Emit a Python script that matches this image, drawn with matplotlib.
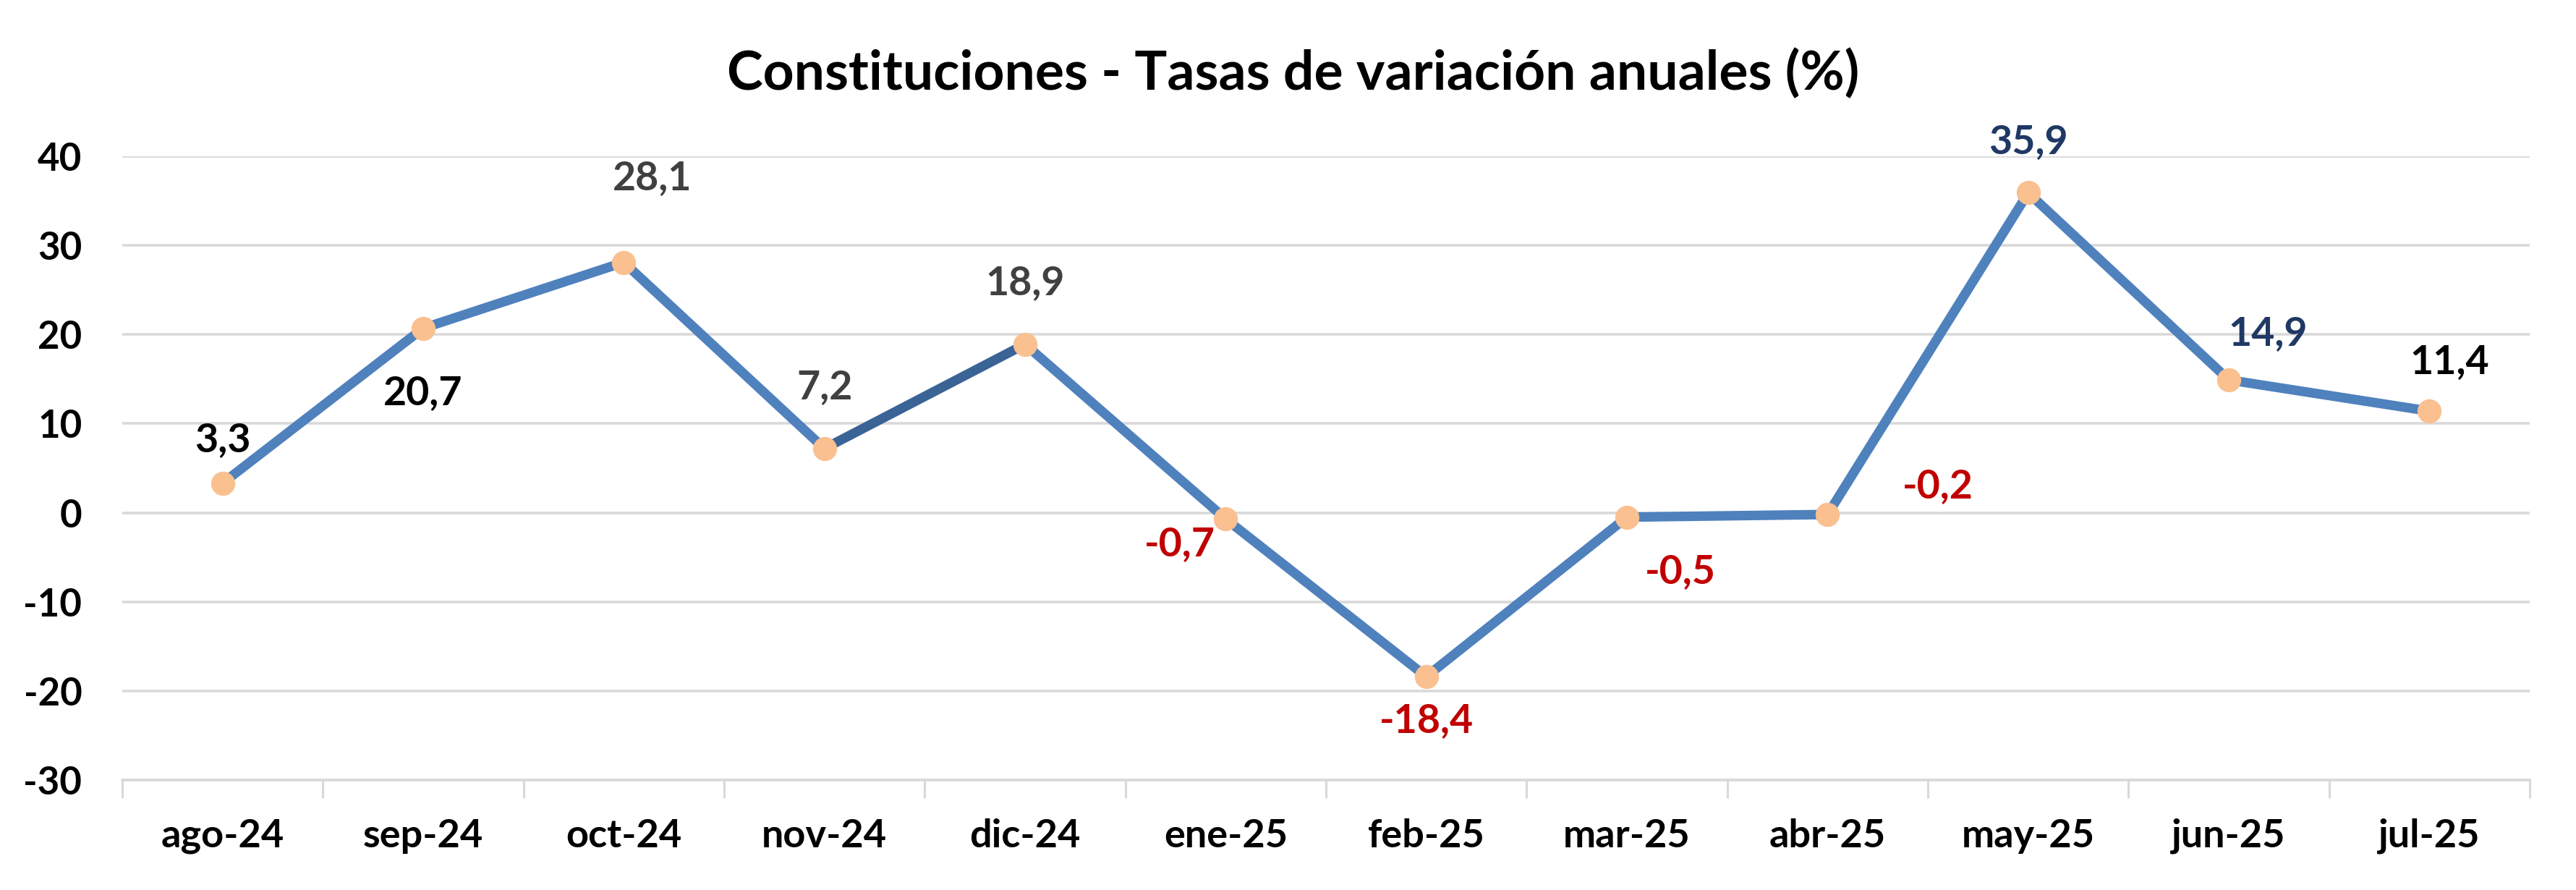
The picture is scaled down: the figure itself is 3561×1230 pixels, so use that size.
import matplotlib
matplotlib.use('Agg')
import matplotlib.pyplot as plt
from matplotlib.ticker import FixedLocator, NullFormatter

# Datos
months = ['ago-24', 'sep-24', 'oct-24', 'nov-24', 'dic-24', 'ene-25',
          'feb-25', 'mar-25', 'abr-25', 'may-25', 'jun-25', 'jul-25']
rates = [3.3, 20.7, 28.1, 7.2, 18.9, -0.7, -18.4, -0.5, -0.2, 35.9, 14.9, 11.4]
yticks = [-30, -20, -10, 0, 10, 20, 30, 40]

# Estilo de etiquetas (color y desplazamiento en puntos)
label_colors = ['#000000', '#000000', '#404040', '#404040', '#404040', '#C00000',
                '#C00000', '#C00000', '#C00000', '#1F3864', '#1F3864', '#000000']
label_offsets = [(0, 43), (0, -64), (28, 84), (0, 61), (0, 61), (-46, -25),
                 (0, -44), (53, -54), (110, 28), (0, 51), (39, 46), (20, 49)]

plt.rcParams['font.family'] = ['Lato', 'DejaVu Sans']

fig = plt.figure(figsize=(35.62, 12.30), dpi=100)
ax = fig.add_axes([0.0474, 0.1236, 0.9344, 0.7008])

x = list(range(len(months)))

# Linea (un segmento mas oscuro entre nov-24 y dic-24)
for i in range(len(x) - 1):
    col = '#3A6396' if i == 3 else '#4F81BD'
    ax.plot(x[i:i + 2], rates[i:i + 2], color=col, linewidth=9.5,
            solid_capstyle='butt', zorder=3)
ax.plot(x, rates, linestyle='none', marker='o', markersize=24,
        markerfacecolor='#FAC090', markeredgewidth=0, zorder=4)

for i, v in enumerate(rates):
    ax.annotate(f'{v:.1f}'.replace('.', ','), (x[i], v),
                xytext=label_offsets[i], textcoords='offset points',
                ha='center', va='center', fontsize=40, fontweight='bold',
                color=label_colors[i], zorder=5)

ax.set_xlim(-0.5, len(months) - 0.5)
ax.set_ylim(-30, 40)
ax.set_yticks(yticks)
ax.set_yticklabels([str(t) for t in yticks], fontsize=38, fontweight='bold')
ax.grid(axis='y', color='#D9D9D9', linewidth=2.6)
ax.set_axisbelow(True)

ax.set_xticks(x)
ax.set_xticklabels(months, fontsize=39, fontweight='bold')
ax.xaxis.set_minor_locator(FixedLocator([i - 0.5 for i in range(len(months) + 1)]))
ax.xaxis.set_minor_formatter(NullFormatter())
ax.tick_params(axis='x', which='major', length=0, pad=38)
ax.tick_params(axis='x', which='minor', length=18, width=2.2, color='#D9D9D9')
ax.tick_params(axis='y', length=0, pad=40)

for s in ['top', 'right', 'left']:
    ax.spines[s].set_visible(False)
ax.spines['bottom'].set_color('#D9D9D9')
ax.spines['bottom'].set_linewidth(2.6)

fig.text(0.502, 0.917, 'Constituciones - Tasas de variación anuales (%)',
         ha='center', va='center', fontsize=54, fontweight='bold')

fig.savefig('out.png', dpi=100, facecolor='white')
